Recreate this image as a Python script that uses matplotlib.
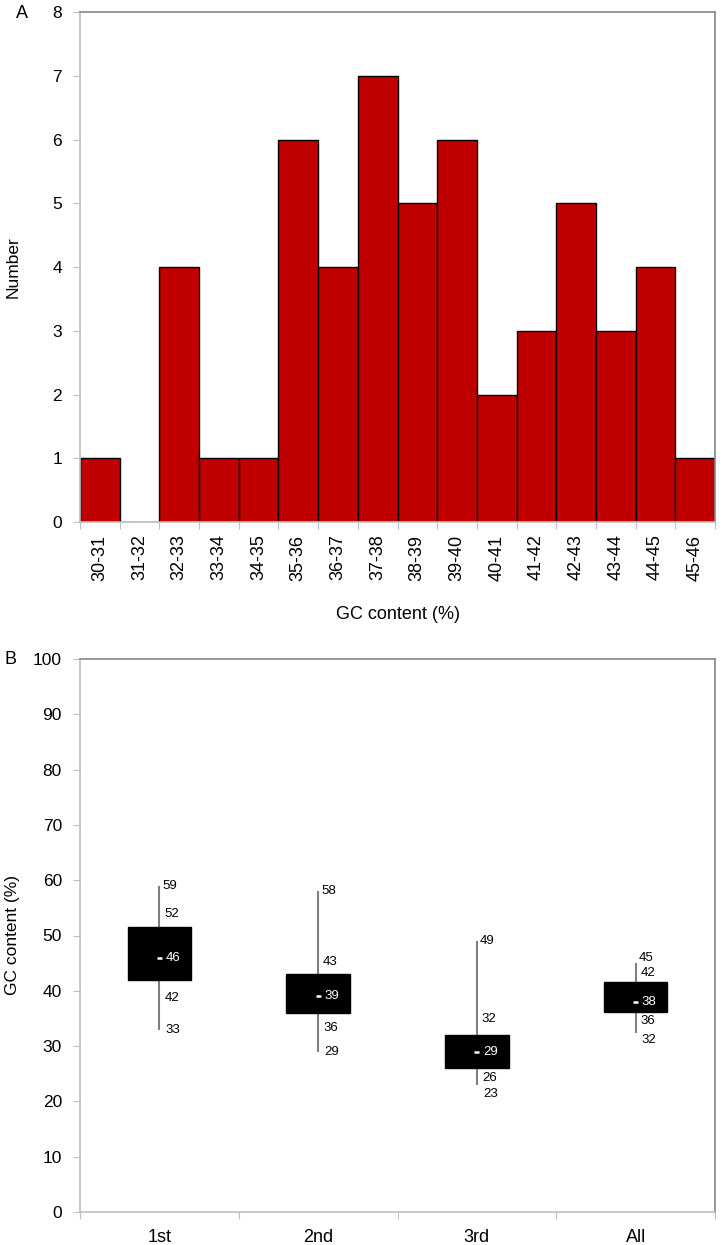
import matplotlib
matplotlib.use("Agg")
import matplotlib.pyplot as plt
import numpy as np
from matplotlib.transforms import offset_copy

plt.rcParams['font.family'] = ['Liberation Sans', 'DejaVu Sans']

# ---- Panel A data ----
bins = ["30-31", "31-32", "32-33", "33-34", "34-35", "35-36", "36-37", "37-38",
        "38-39", "39-40", "40-41", "41-42", "42-43", "43-44", "44-45", "45-46"]
counts = [1, 0, 4, 1, 1, 6, 4, 7, 5, 6, 2, 3, 5, 3, 4, 1]

# ---- Panel B data ----
positions = ["1st", "2nd", "3rd", "All"]
gc_min = [33, 29, 23, 32.4]
gc_q1 = [42, 36, 26, 36.2]
gc_median = [46, 39, 29, 38]
gc_q3 = [51.5, 43, 32, 41.6]
gc_max = [59, 58, 49, 45]

# label offsets in pixels (layout only)
off_max = [0, 0, 0, 5]
off_q3 = [13, 12, 16, 9]
off_q1 = [-18, -15, -10, -9]
off_min = [0, 0, -9, -7]

W, H = 728, 1245
fig = plt.figure(figsize=(W / 100, H / 100), dpi=100)

light = '#BFBFBF'
dark = '#868686'

def style_spines(ax):
    ax.spines['left'].set_color(light)
    ax.spines['bottom'].set_color(light)
    ax.spines['top'].set_color(dark)
    ax.spines['right'].set_color(dark)
    for s in ax.spines.values():
        s.set_linewidth(1.2)

# ---- Panel A ----
axA = fig.add_axes([80 / W, 1 - 522 / H, 635 / W, 510 / H])
x = np.arange(len(bins))
axA.bar(x, counts, width=1.0, color='#C00000', edgecolor='black', linewidth=1.0)
axA.set_xlim(-0.5, len(bins) - 0.5)
axA.set_ylim(0, 8)
axA.set_yticks(range(0, 9))
axA.set_xticks(np.arange(-0.5, len(bins), 1.0))
axA.set_xticklabels([])
axA.set_xticks(x, minor=True)
axA.set_xticklabels(bins, minor=True, rotation=90, fontsize=13)
axA.tick_params(axis='x', which='minor', length=0, pad=9)
axA.tick_params(axis='x', which='major', length=5, color=light, direction='out')
axA.tick_params(axis='y', length=5, color=light, direction='out', labelsize=12.5, pad=8)
axA.set_xlabel("GC content (%)", fontsize=13, labelpad=18)
axA.set_ylabel("Number", fontsize=12.5)
axA.yaxis.set_label_coords(-0.094, 0.5)
style_spines(axA)

# ---- Panel B ----
axB = fig.add_axes([80 / W, 1 - 1212 / H, 635 / W, 553 / H])
px = np.arange(len(positions))
box_w = 0.4
axB.vlines(px, gc_min, gc_max, color='#7F7F7F', linewidth=1.5, zorder=1)
axB.bar(px, np.array(gc_q3) - np.array(gc_q1), bottom=gc_q1, width=box_w,
        color='black', edgecolor='black', zorder=2)
axB.hlines(gc_median, px - 0.015, px + 0.015, color='white', linewidth=1.8, zorder=3)

for i in range(len(positions)):
    def lab(val, dy, color='#000000', dx=5):
        tr = offset_copy(axB.transData, fig=fig, x=dx, y=dy, units='dots')
        axB.text(px[i], val, f"{val:.0f}", transform=tr, fontsize=9.5,
                 va='center', ha='left', color=color, zorder=4)
    lab(gc_max[i], off_max[i], dx=3)
    lab(gc_q3[i], off_q3[i])
    lab(gc_q1[i], off_q1[i])
    lab(gc_min[i], off_min[i], dx=6)
    lab(gc_median[i], 0, color='white', dx=6)

axB.set_xlim(-0.5, len(positions) - 0.5)
axB.set_ylim(0, 100)
axB.set_yticks(range(0, 101, 10))
axB.set_xticks(np.arange(-0.5, len(positions), 1.0))
axB.set_xticklabels([])
axB.set_xticks(px, minor=True)
axB.set_xticklabels(positions, minor=True, fontsize=13)
axB.tick_params(axis='x', which='minor', length=0, pad=12)
axB.tick_params(axis='x', which='major', length=5, color=light, direction='out')
axB.tick_params(axis='y', length=5, color=light, direction='out', labelsize=12.5, pad=8)
axB.set_ylabel("GC content (%)", fontsize=12.5)
axB.yaxis.set_label_coords(-0.094, 0.5)
style_spines(axB)

fig.text(22 / W, 1 - 14 / H, "A", fontsize=13, ha='center', va='center')
fig.text(10 / W, 1 - 659 / H, "B", fontsize=13, ha='center', va='center')

fig.savefig("out.png", dpi=100)
